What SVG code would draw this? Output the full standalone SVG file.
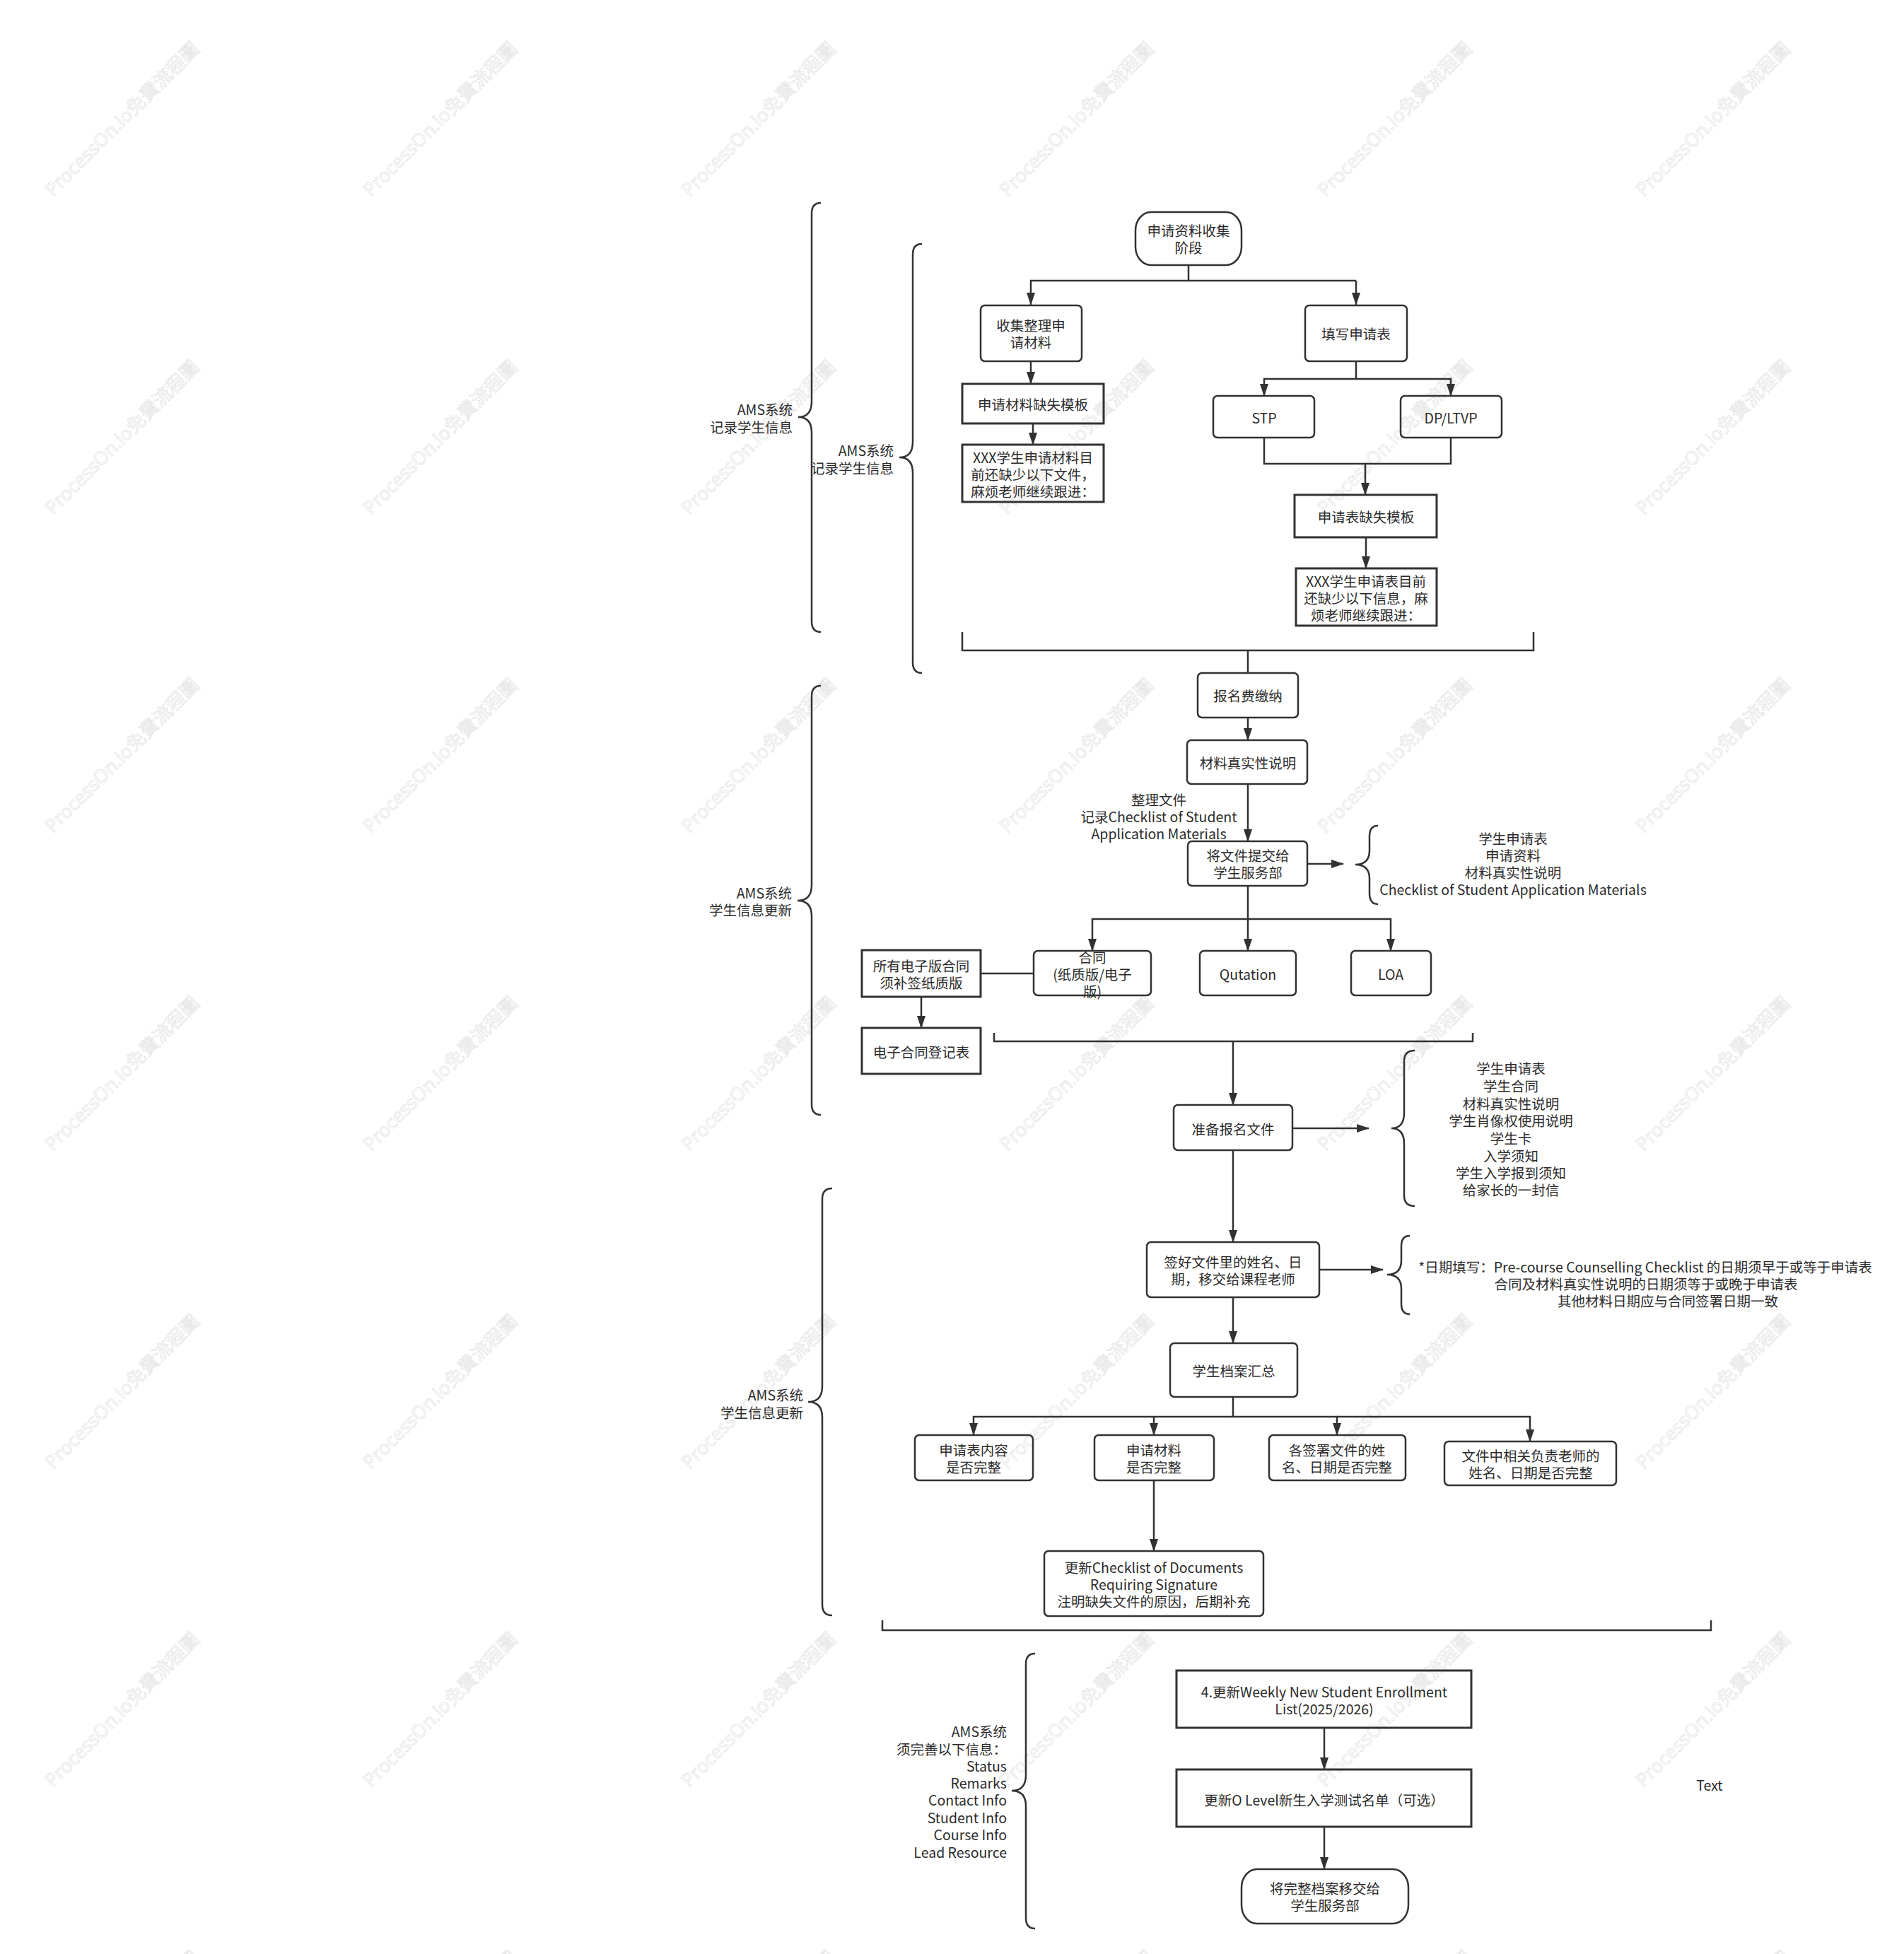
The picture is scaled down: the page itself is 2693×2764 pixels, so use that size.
<svg xmlns="http://www.w3.org/2000/svg" width="2693" height="2764" viewBox="0 0 2693 2764">
<defs>
<marker id="arr" markerUnits="userSpaceOnUse" markerWidth="18" markerHeight="12" refX="17" refY="6" orient="auto"><path d="M0,0 L18,6 L0,12 z" fill="#323232"/></marker>
<style>
.t{font-family:"Noto Sans CJK SC","Noto Sans",sans-serif;font-size:19.5px;fill:#2b2b2b;text-anchor:middle;dominant-baseline:central}
.r{text-anchor:end}
.wm{font-family:"Noto Sans","Noto Sans CJK SC",sans-serif;font-size:26.5px;fill:none;stroke:#e3e3e3;stroke-width:0.8;text-anchor:middle;dominant-baseline:central}
.box{fill:none;stroke:#323232;stroke-width:2.5}
.sq{fill:none;stroke:#323232;stroke-width:3}
.ln{fill:none;stroke:#323232;stroke-width:2.5}
.ar{fill:none;stroke:#323232;stroke-width:2.5;marker-end:url(#arr)}
.br{fill:none;stroke:#323232;stroke-width:2.5}
</style>
</defs>
<rect x="0" y="0" width="2693" height="2764" fill="#ffffff"/>
<g id="watermarks">
<text class="wm" x="172" y="168" transform="rotate(-45 172 168)">ProcessOn.io免費流程圖</text>
<text class="wm" x="622" y="168" transform="rotate(-45 622 168)">ProcessOn.io免費流程圖</text>
<text class="wm" x="1072" y="168" transform="rotate(-45 1072 168)">ProcessOn.io免費流程圖</text>
<text class="wm" x="1522" y="168" transform="rotate(-45 1522 168)">ProcessOn.io免費流程圖</text>
<text class="wm" x="1972" y="168" transform="rotate(-45 1972 168)">ProcessOn.io免費流程圖</text>
<text class="wm" x="2422" y="168" transform="rotate(-45 2422 168)">ProcessOn.io免費流程圖</text>
<text class="wm" x="172" y="618" transform="rotate(-45 172 618)">ProcessOn.io免費流程圖</text>
<text class="wm" x="622" y="618" transform="rotate(-45 622 618)">ProcessOn.io免費流程圖</text>
<text class="wm" x="1072" y="618" transform="rotate(-45 1072 618)">ProcessOn.io免費流程圖</text>
<text class="wm" x="1522" y="618" transform="rotate(-45 1522 618)">ProcessOn.io免費流程圖</text>
<text class="wm" x="1972" y="618" transform="rotate(-45 1972 618)">ProcessOn.io免費流程圖</text>
<text class="wm" x="2422" y="618" transform="rotate(-45 2422 618)">ProcessOn.io免費流程圖</text>
<text class="wm" x="172" y="1068" transform="rotate(-45 172 1068)">ProcessOn.io免費流程圖</text>
<text class="wm" x="622" y="1068" transform="rotate(-45 622 1068)">ProcessOn.io免費流程圖</text>
<text class="wm" x="1072" y="1068" transform="rotate(-45 1072 1068)">ProcessOn.io免費流程圖</text>
<text class="wm" x="1522" y="1068" transform="rotate(-45 1522 1068)">ProcessOn.io免費流程圖</text>
<text class="wm" x="1972" y="1068" transform="rotate(-45 1972 1068)">ProcessOn.io免費流程圖</text>
<text class="wm" x="2422" y="1068" transform="rotate(-45 2422 1068)">ProcessOn.io免費流程圖</text>
<text class="wm" x="172" y="1518" transform="rotate(-45 172 1518)">ProcessOn.io免費流程圖</text>
<text class="wm" x="622" y="1518" transform="rotate(-45 622 1518)">ProcessOn.io免費流程圖</text>
<text class="wm" x="1072" y="1518" transform="rotate(-45 1072 1518)">ProcessOn.io免費流程圖</text>
<text class="wm" x="1522" y="1518" transform="rotate(-45 1522 1518)">ProcessOn.io免費流程圖</text>
<text class="wm" x="1972" y="1518" transform="rotate(-45 1972 1518)">ProcessOn.io免費流程圖</text>
<text class="wm" x="2422" y="1518" transform="rotate(-45 2422 1518)">ProcessOn.io免費流程圖</text>
<text class="wm" x="172" y="1968" transform="rotate(-45 172 1968)">ProcessOn.io免費流程圖</text>
<text class="wm" x="622" y="1968" transform="rotate(-45 622 1968)">ProcessOn.io免費流程圖</text>
<text class="wm" x="1072" y="1968" transform="rotate(-45 1072 1968)">ProcessOn.io免費流程圖</text>
<text class="wm" x="1522" y="1968" transform="rotate(-45 1522 1968)">ProcessOn.io免費流程圖</text>
<text class="wm" x="1972" y="1968" transform="rotate(-45 1972 1968)">ProcessOn.io免費流程圖</text>
<text class="wm" x="2422" y="1968" transform="rotate(-45 2422 1968)">ProcessOn.io免費流程圖</text>
<text class="wm" x="172" y="2418" transform="rotate(-45 172 2418)">ProcessOn.io免費流程圖</text>
<text class="wm" x="622" y="2418" transform="rotate(-45 622 2418)">ProcessOn.io免費流程圖</text>
<text class="wm" x="1072" y="2418" transform="rotate(-45 1072 2418)">ProcessOn.io免費流程圖</text>
<text class="wm" x="1522" y="2418" transform="rotate(-45 1522 2418)">ProcessOn.io免費流程圖</text>
<text class="wm" x="1972" y="2418" transform="rotate(-45 1972 2418)">ProcessOn.io免費流程圖</text>
<text class="wm" x="2422" y="2418" transform="rotate(-45 2422 2418)">ProcessOn.io免費流程圖</text>
<text class="wm" x="172" y="2868" transform="rotate(-45 172 2868)">ProcessOn.io免費流程圖</text>
<text class="wm" x="622" y="2868" transform="rotate(-45 622 2868)">ProcessOn.io免費流程圖</text>
<text class="wm" x="1072" y="2868" transform="rotate(-45 1072 2868)">ProcessOn.io免費流程圖</text>
<text class="wm" x="1522" y="2868" transform="rotate(-45 1522 2868)">ProcessOn.io免費流程圖</text>
<text class="wm" x="1972" y="2868" transform="rotate(-45 1972 2868)">ProcessOn.io免費流程圖</text>
<text class="wm" x="2422" y="2868" transform="rotate(-45 2422 2868)">ProcessOn.io免費流程圖</text>
</g>

<g id="connectors">
<path class="ln" d="M1681,375 V397 H1918"/>
<path class="ar" d="M1681,397 H1458 V431"/>
<path class="ar" d="M1918,397 V431"/>
<path class="ar" d="M1458,511 V543"/>
<path class="ar" d="M1461,599 V629"/>
<path class="ln" d="M1918,511 V536"/>
<path class="ar" d="M1918,536 H1788 V560"/>
<path class="ar" d="M1918,536 H2052 V560"/>
<path class="ln" d="M1788,619 V656 H2052 V619"/>
<path class="ar" d="M1931,656 V700"/>
<path class="ar" d="M1932,760 V804"/>
<path class="ln" d="M1361,894 V920 H2169 V894"/>
<path class="ln" d="M1765,920 V952"/>
<path class="ar" d="M1765,1015 V1047"/>
<path class="ar" d="M1765,1109 V1190"/>
<path class="ar" d="M1849,1222 H1900"/>
<path class="ln" d="M1765,1253 V1300"/>
<path class="ar" d="M1765,1300 H1545 V1345"/>
<path class="ar" d="M1765,1300 V1345"/>
<path class="ar" d="M1765,1300 H1967 V1345"/>
<path class="ln" d="M1387,1377 H1461"/>
<path class="ar" d="M1303,1410 V1454"/>
<path class="ln" d="M1406,1461 V1473 H2083 V1461"/>
<path class="ar" d="M1744,1473 V1563"/>
<path class="ar" d="M1828,1596 H1936"/>
<path class="ar" d="M1744,1627 V1757"/>
<path class="ar" d="M1866,1796 H1956"/>
<path class="ar" d="M1744,1835 V1900"/>
<path class="ln" d="M1744,1976 V2004"/>
<path class="ar" d="M1744,2004 H1377 V2030"/>
<path class="ar" d="M1632,2004 V2030"/>
<path class="ar" d="M1744,2004 H1891 V2030"/>
<path class="ar" d="M1891,2004 H2164 V2039"/>
<path class="ar" d="M1632,2094 V2194"/>
<path class="ln" d="M1248,2292 V2306 H2420 V2292"/>
<path class="ar" d="M1873,2444 V2503"/>
<path class="ar" d="M1873,2584 V2644"/>
</g>

<g id="braces">
<path class="br" d="M1161,287 Q1148,287 1148,302 V568 Q1148,590 1129,590 Q1148,590 1148,612 V879 Q1148,894 1161,894"/>
<path class="br" d="M1304,345 Q1291,345 1291,360 V625 Q1291,647 1272,647 Q1291,647 1291,669 V937 Q1291,952 1304,952"/>
<path class="br" d="M1161,970 Q1148,970 1148,985 V1252 Q1148,1274 1128,1274 Q1148,1274 1148,1296 V1562 Q1148,1577 1161,1577"/>
<path class="br" d="M1177,1681 Q1163,1681 1163,1696 V1961 Q1163,1983 1143,1983 Q1163,1983 1163,2005 V2270 Q1163,2285 1177,2285"/>
<path class="br" d="M1464,2339 Q1451,2339 1451,2354 V2511 Q1451,2533 1431,2533 Q1451,2533 1451,2555 V2713 Q1451,2728 1464,2728"/>
<path class="br" d="M1949,1168 Q1937,1168 1937,1183 V1203 Q1937,1223 1917,1223 Q1937,1223 1937,1243 V1264 Q1937,1279 1949,1279"/>
<path class="br" d="M2001,1486 Q1986,1486 1986,1501 V1574 Q1986,1596 1968,1596 Q1986,1596 1986,1618 V1691 Q1986,1706 2001,1706"/>
<path class="br" d="M1994,1748 Q1982,1748 1982,1763 V1783 Q1982,1803 1962,1803 Q1982,1803 1982,1823 V1844 Q1982,1859 1994,1859"/>
</g>

<g id="labels">
<text class="t r" x="1121"><tspan x="1121" y="578">AMS系统</tspan><tspan x="1121" y="603">记录学生信息</tspan></text>
<text class="t r" x="1264"><tspan x="1264" y="636">AMS系统</tspan><tspan x="1264" y="661">记录学生信息</tspan></text>
<text class="t r" x="1120"><tspan x="1120" y="1262">AMS系统</tspan><tspan x="1120" y="1286">学生信息更新</tspan></text>
<text class="t r" x="1136"><tspan x="1136" y="1972">AMS系统</tspan><tspan x="1136" y="1997">学生信息更新</tspan></text>
<text class="t r" x="1424"><tspan x="1424" y="2448">AMS系统</tspan><tspan x="1424" y="2473">须完善以下信息：</tspan><tspan x="1424" y="2497">Status</tspan><tspan x="1424" y="2521">Remarks</tspan><tspan x="1424" y="2545">Contact Info</tspan><tspan x="1424" y="2570">Student Info</tspan><tspan x="1424" y="2594">Course Info</tspan><tspan x="1424" y="2619">Lead Resource</tspan></text>
<text class="t" x="1639"><tspan x="1639" y="1130">整理文件</tspan><tspan x="1639" y="1154">记录Checklist of Student</tspan><tspan x="1639" y="1178">Application Materials</tspan></text>
<text class="t" x="2140"><tspan x="2140" y="1185">学生申请表</tspan><tspan x="2140" y="1209">申请资料</tspan><tspan x="2140" y="1233">材料真实性说明</tspan><tspan x="2140" y="1257">Checklist of Student Application Materials</tspan></text>
<text class="t" x="2137"><tspan x="2137" y="1510">学生申请表</tspan><tspan x="2137" y="1535">学生合同</tspan><tspan x="2137" y="1560">材料真实性说明</tspan><tspan x="2137" y="1584">学生肖像权使用说明</tspan><tspan x="2137" y="1609">学生卡</tspan><tspan x="2137" y="1634">入学须知</tspan><tspan x="2137" y="1658">学生入学报到须知</tspan><tspan x="2137" y="1682">给家长的一封信</tspan></text>
<text class="t" x="2327"><tspan x="2327" y="1791">*日期填写：Pre-course Counselling Checklist 的日期须早于或等于申请表</tspan><tspan x="2328" y="1815">合同及材料真实性说明的日期须等于或晚于申请表</tspan><tspan x="2359" y="1839">其他材料日期应与合同签署日期一致</tspan></text>
<text class="t" x="2418" y="2524">Text</text>
</g>

<g id="n-start"><rect class="box" x="1606" y="300" width="150" height="75" rx="22" ry="26"/><text class="t"><tspan x="1681" y="325">申请资料收集</tspan><tspan x="1681" y="349">阶段</tspan></text></g>
<g id="n-collect"><rect class="box" x="1387" y="432" width="143" height="79" rx="6"/><text class="t"><tspan x="1458" y="459">收集整理申</tspan><tspan x="1458" y="483">请材料</tspan></text></g>
<g id="n-fill"><rect class="box" x="1846" y="432" width="144" height="79" rx="6"/><text class="t" x="1918" y="471">填写申请表</text></g>
<g id="n-tpl1"><rect class="sq" x="1361" y="543" width="200" height="56"/><text class="t" x="1461" y="571">申请材料缺失模板</text></g>
<g id="n-msg1"><rect class="sq" x="1361" y="629" width="200" height="81"/><text class="t"><tspan x="1461" y="646">XXX学生申请材料目</tspan><tspan x="1461" y="670">前还缺少以下文件，</tspan><tspan x="1461" y="694">麻烦老师继续跟进：</tspan></text></g>
<g id="n-stp"><rect class="box" x="1716" y="560" width="143" height="59" rx="6"/><text class="t" x="1788" y="590">STP</text></g>
<g id="n-dp"><rect class="box" x="1981" y="560" width="143" height="59" rx="6"/><text class="t" x="2052" y="590">DP/LTVP</text></g>
<g id="n-tpl2"><rect class="sq" x="1831" y="700" width="201" height="60"/><text class="t" x="1932" y="730">申请表缺失模板</text></g>
<g id="n-msg2"><rect class="sq" x="1833" y="804" width="199" height="81"/><text class="t"><tspan x="1932" y="821">XXX学生申请表目前</tspan><tspan x="1932" y="845">还缺少以下信息，麻</tspan><tspan x="1932" y="869">烦老师继续跟进：</tspan></text></g>
<g id="n-fee"><rect class="box" x="1694" y="952" width="142" height="63" rx="6"/><text class="t" x="1765" y="983">报名费缴纳</text></g>
<g id="n-auth"><rect class="box" x="1679" y="1047" width="170" height="62" rx="6"/><text class="t" x="1765" y="1078">材料真实性说明</text></g>
<g id="n-submit"><rect class="box" x="1680" y="1190" width="169" height="63" rx="6"/><text class="t"><tspan x="1765" y="1209">将文件提交给</tspan><tspan x="1765" y="1233">学生服务部</tspan></text></g>
<g id="n-contract"><rect class="box" x="1462" y="1345" width="166" height="63" rx="6"/><text class="t"><tspan x="1545" y="1353">合同</tspan><tspan x="1545" y="1377">(纸质版/电子</tspan><tspan x="1545" y="1401">版)</tspan></text></g>
<g id="n-quot"><rect class="box" x="1697" y="1345" width="136" height="63" rx="6"/><text class="t" x="1765" y="1377">Qutation</text></g>
<g id="n-loa"><rect class="box" x="1911" y="1345" width="113" height="63" rx="6"/><text class="t" x="1967" y="1377">LOA</text></g>
<g id="n-paper"><rect class="sq" x="1219" y="1344" width="168" height="66"/><text class="t"><tspan x="1303" y="1365">所有电子版合同</tspan><tspan x="1303" y="1389">须补签纸质版</tspan></text></g>
<g id="n-ereg"><rect class="sq" x="1219" y="1454" width="168" height="65"/><text class="t" x="1303" y="1487">电子合同登记表</text></g>
<g id="n-prep"><rect class="box" x="1660" y="1563" width="168" height="64" rx="6"/><text class="t" x="1744" y="1596">准备报名文件</text></g>
<g id="n-sign"><rect class="box" x="1622" y="1757" width="244" height="78" rx="6"/><text class="t"><tspan x="1744" y="1784">签好文件里的姓名、日</tspan><tspan x="1744" y="1808">期，移交给课程老师</tspan></text></g>
<g id="n-archive"><rect class="box" x="1655" y="1900" width="180" height="76" rx="6"/><text class="t" x="1745" y="1938">学生档案汇总</text></g>
<g id="n-c1"><rect class="box" x="1294" y="2030" width="167" height="64" rx="6"/><text class="t"><tspan x="1377" y="2050">申请表内容</tspan><tspan x="1377" y="2074">是否完整</tspan></text></g>
<g id="n-c2"><rect class="box" x="1548" y="2030" width="169" height="64" rx="6"/><text class="t"><tspan x="1632" y="2050">申请材料</tspan><tspan x="1632" y="2074">是否完整</tspan></text></g>
<g id="n-c3"><rect class="box" x="1795" y="2030" width="193" height="64" rx="6"/><text class="t"><tspan x="1891" y="2050">各签署文件的姓</tspan><tspan x="1891" y="2074">名、日期是否完整</tspan></text></g>
<g id="n-c4"><rect class="box" x="2043" y="2039" width="243" height="62" rx="6"/><text class="t"><tspan x="2165" y="2058">文件中相关负责老师的</tspan><tspan x="2165" y="2082">姓名、日期是否完整</tspan></text></g>
<g id="n-update"><rect class="box" x="1477" y="2194" width="310" height="92" rx="6"/><text class="t"><tspan x="1632" y="2216">更新Checklist of Documents</tspan><tspan x="1632" y="2240">Requiring Signature</tspan><tspan x="1632" y="2264">注明缺失文件的原因，后期补充</tspan></text></g>
<g id="n-weekly"><rect class="sq" x="1664" y="2363" width="417" height="81"/><text class="t"><tspan x="1873" y="2392">4.更新Weekly New Student Enrollment</tspan><tspan x="1873" y="2416">List(2025/2026)</tspan></text></g>
<g id="n-olevel"><rect class="sq" x="1664" y="2503" width="417" height="81"/><text class="t" x="1873" y="2545">更新O Level新生入学测试名单（可选）</text></g>
<g id="n-end"><rect class="box" x="1756" y="2644" width="236" height="77" rx="22" ry="26"/><text class="t"><tspan x="1874" y="2670">将完整档案移交给</tspan><tspan x="1874" y="2694">学生服务部</tspan></text></g>
</svg>
